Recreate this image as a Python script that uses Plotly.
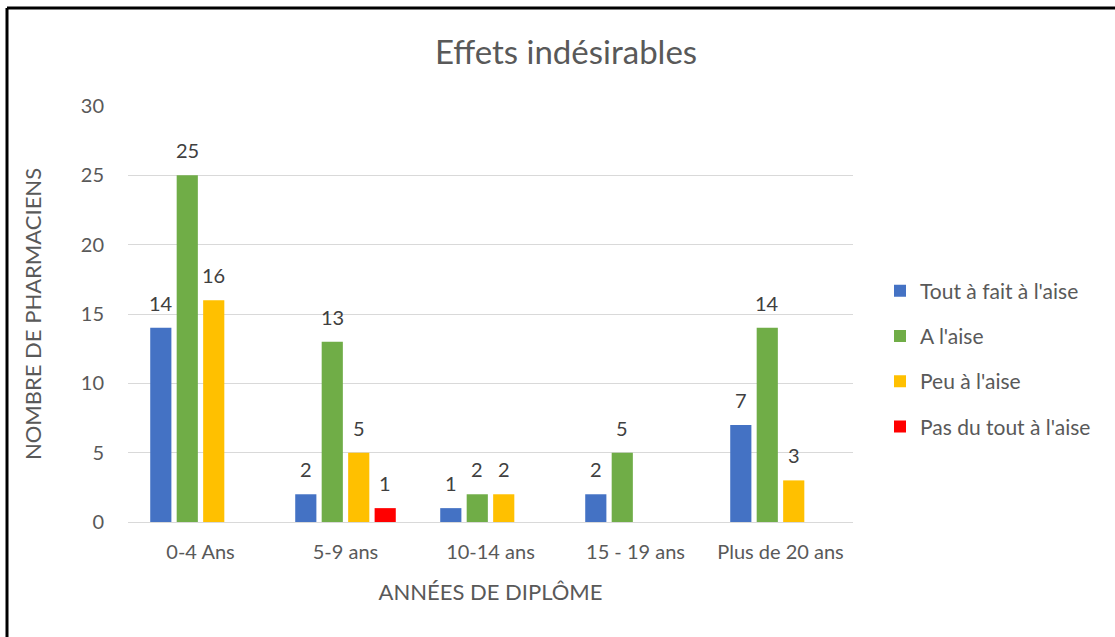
import plotly.graph_objects as go

categories = ["0-4 Ans", "5-9 ans", "10-14 ans", "15 - 19 ans", "Plus de 20 ans"]
series_names = ["Tout à fait à l'aise", "A l'aise", "Peu à l'aise", "Pas du tout à l'aise"]
tout_a_fait = [14, 2, 1, 2, 7]
a_l_aise = [25, 13, 2, 5, 14]
peu = [16, 5, 2, None, 3]
pas_du_tout = [None, 1, None, None, None]
colors = ["#4472C4", "#70AD47", "#FFC000", "#FF0000"]
y_ticks = [0, 5, 10, 15, 20, 25, 30]

FONT = "Lato, 'Open Sans', sans-serif"
TXT = "#595959"

L, R, T, B = 128, 262, 106, 115
PW = 1115 - L - R
PH = 637 - T - B

def px_x(p):
    return (p - L) / PW

def px_y(p):
    return (637 - B - p) / PH

BARGAP = 0.27
cat_w = PW / len(categories)
slot = cat_w * (1 - BARGAP) / len(series_names)

fig = go.Figure()
all_series = [tout_a_fait, a_l_aise, peu, pas_du_tout]
for i, (name, vals) in enumerate(zip(series_names, all_series)):
    fig.add_trace(go.Bar(
        x=categories, y=vals, name=name,
        marker=dict(color=colors[i], line=dict(width=0)),
        legendgroup=f"g{i}",
    ))
    off = (i - (len(series_names) - 1) / 2) * slot
    for c, v in zip(categories, vals):
        if v is None:
            continue
        fig.add_annotation(x=c, y=v, text=str(v), showarrow=False,
                           xshift=off, yshift=25, yanchor="middle", xanchor="center",
                           font=dict(size=20, color="#404040", family=FONT))

fig.update_layout(
    width=1115, height=637,
    margin=dict(l=L, r=R, t=T, b=B, autoexpand=False),
    paper_bgcolor="white", plot_bgcolor="white",
    font=dict(family=FONT, color=TXT, size=20),
    barmode="group", bargap=BARGAP, bargroupgap=0.2,
    title=dict(text="Effets indésirables", x=566 / 1115, xanchor="center",
               y=1 - 52 / 637, yanchor="middle", xref="container", yref="container",
               font=dict(size=33, color=TXT, family=FONT)),
    showlegend=True,
    legend=dict(x=px_x(880), xanchor="left", y=px_y(359), yanchor="middle",
                font=dict(size=21, color=TXT, family=FONT), tracegroupgap=15,
                itemwidth=30, bgcolor="rgba(0,0,0,0)"),
)
fig.update_yaxes(range=[0, 30], tickvals=y_ticks, showgrid=True, gridcolor="#D9D9D9",
                 gridwidth=1.3, zeroline=False, showline=False, ticks="",
                 ticklabelstandoff=23,
                 tickfont=dict(size=20, color=TXT),
                 title=dict(text="NOMBRE DE PHARMACIENS", font=dict(size=22, color=TXT), standoff=33))
fig.update_xaxes(showgrid=False, showline=True, linecolor="#D9D9D9", linewidth=1.3,
                 ticks="", ticklabelstandoff=12, tickfont=dict(size=20, color=TXT),
                 title=dict(text="ANNÉES DE DIPLÔME", font=dict(size=22, color=TXT), standoff=22))

# chart frame (top and left black border as in reference)
fig.add_shape(type="line", xref="paper", yref="paper", x0=px_x(7), x1=px_x(1115),
              y0=px_y(8), y1=px_y(8), line=dict(color="black", width=3))
fig.add_shape(type="line", xref="paper", yref="paper", x0=px_x(7), x1=px_x(7),
              y0=px_y(8), y1=px_y(637), line=dict(color="black", width=3))

fig.write_html("out.html", config={"displayModeBar": False},
               post_script="document.body.style.margin='0';document.body.style.overflow='hidden';")
